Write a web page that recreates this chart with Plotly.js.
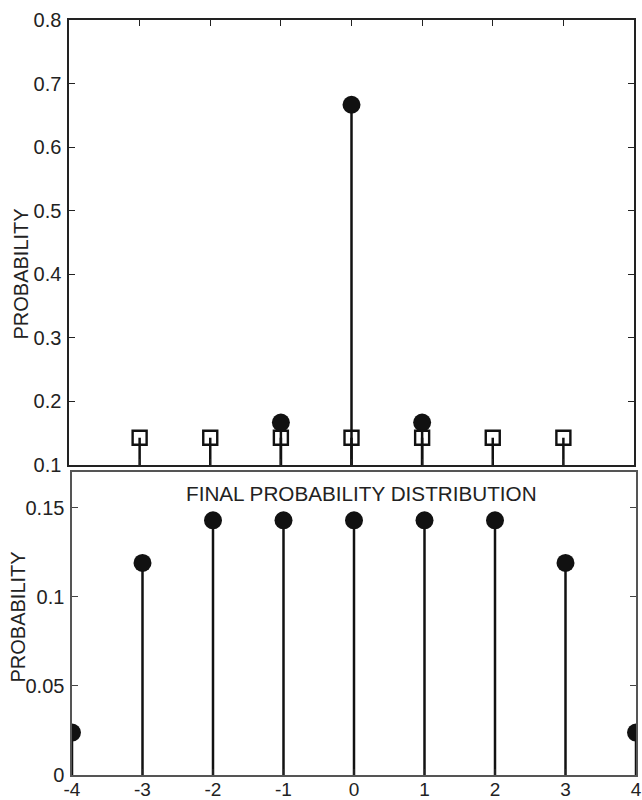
<!DOCTYPE html>
<html>
<head>
<meta charset="utf-8">
<script src="https://cdn.plot.ly/plotly-3.0.1.min.js"></script>
<style>html,body{margin:0;padding:0;background:#fff;}#chart{width:642px;height:800px;}</style>
</head>
<body>
<div id="chart"></div>
<script>
// Top panel: initial distribution
const topCircleX = [-1, 0, 1];
const topCircleY = [0.1667, 0.6667, 0.1667];
const topSquareX = [-3, -2, -1, 0, 1, 2, 3];
const topSquareY = [0.1429, 0.1429, 0.1429, 0.1429, 0.1429, 0.1429, 0.1429];
// Bottom panel: final distribution
const finalX = [-4, -3, -2, -1, 0, 1, 2, 3, 4];
const finalY = [0.0238, 0.1190, 0.1429, 0.1429, 0.1429, 0.1429, 0.1429, 0.1190, 0.0238];
const xTicks = [-4, -3, -2, -1, 0, 1, 2, 3, 4];
const xTickText = ['-4', '-3', '-2', '-1', '0', '1', '2', '3', '4'];
const topYTicks = [0.1, 0.2, 0.3, 0.4, 0.5, 0.6, 0.7, 0.8];
const botYTicks = [0, 0.05, 0.1, 0.15];
const botYTickText = ['0', '0.05', '0.1', '0.15'];
const yTitle = 'PROBABILITY';
const botTitle = 'FINAL PROBABILITY DISTRIBUTION';

const ink = '#111';
function stem(x, y, xa, ya, symbol, size, open) {
  return {
    type: 'scatter', mode: 'markers', x: x, y: y, xaxis: xa, yaxis: ya,
    marker: open
      ? {symbol: symbol, size: size, color: ink, line: {color: ink, width: 2.4}}
      : {symbol: symbol, size: size, color: ink, line: {width: 0}},
    error_y: {type: 'data', symmetric: false, array: y.map(() => 0), arrayminus: y.slice(),
              color: ink, thickness: 2.5, width: 0},
    hoverinfo: 'none', showlegend: false
  };
}

const data = [
  stem(topCircleX, topCircleY, 'x', 'y', 'circle', 18, false),
  stem(topSquareX, topSquareY, 'x', 'y', 'square-open', 14, true),
  stem(finalX, finalY, 'x2', 'y2', 'circle', 18, false)
];

const font = {family: 'Liberation Sans, Arial, sans-serif', size: 20, color: '#222'};
const xfont = {family: 'Liberation Sans, Arial, sans-serif', size: 19, color: '#222'};
const W = 642, H = 800;
const layout = {
  width: W, height: H,
  margin: {l: 0, r: 0, t: 0, b: 0},
  paper_bgcolor: '#fff', plot_bgcolor: '#fff',
  font: font, showlegend: false,
  xaxis: {domain: [69 / W, 634 / W], range: [-4, 4], tickvals: xTicks, showticklabels: false,
          ticks: 'inside', ticklen: 6, tickwidth: 1.2, tickcolor: '#222',
          showline: true, linecolor: '#222', linewidth: 1.6, mirror: 'ticks',
          showgrid: false, zeroline: false, anchor: 'y'},
  yaxis: {domain: [1 - 465 / H, 1 - 20 / H], range: [0.1, 0.8], tickvals: topYTicks,
          ticks: 'inside', ticklen: 6, tickwidth: 1.2, tickcolor: '#222',
          showline: true, linecolor: '#222', linewidth: 1.6, mirror: 'ticks',
          showgrid: false, zeroline: false, anchor: 'x', tickfont: font, ticklabelstandoff: 2},
  xaxis2: {domain: [72 / W, 636 / W], range: [-4, 4], tickvals: xTicks, ticktext: xTickText,
           ticks: 'inside', ticklen: 6, tickwidth: 1.2, tickcolor: '#222',
           showline: true, linecolor: '#555', linewidth: 1.6, mirror: true,
           showgrid: false, zeroline: false, anchor: 'y2', tickfont: xfont, ticklabelstandoff: -3},
  yaxis2: {domain: [1 - 775 / H, 1 - 472 / H], range: [0, 0.17], tickvals: botYTicks, ticktext: botYTickText,
           ticks: 'inside', ticklen: 6, tickwidth: 1.2, tickcolor: '#444',
           showline: true, linecolor: '#555', linewidth: 1.6, mirror: 'ticks',
           showgrid: false, zeroline: false, anchor: 'x2', tickfont: font, ticklabelstandoff: 2},
  annotations: [
    {text: yTitle, xref: 'paper', yref: 'paper', x: 20.5 / W, y: 1 - 274 / H, textangle: -90,
     showarrow: false, font: font, xanchor: 'center', yanchor: 'middle'},
    {text: yTitle, xref: 'paper', yref: 'paper', x: 17.5 / W, y: 1 - 617 / H, textangle: -90,
     showarrow: false, font: font, xanchor: 'center', yanchor: 'middle'},
    {text: botTitle, xref: 'paper', yref: 'paper', x: 362 / W, y: 1 - 493 / H,
     showarrow: false, font: {family: font.family, size: 20.7, color: '#222'}, xanchor: 'center', yanchor: 'middle'}
  ]
};

Plotly.newPlot('chart', data, layout, {staticPlot: true, displayModeBar: false});
</script>
</body>
</html>
